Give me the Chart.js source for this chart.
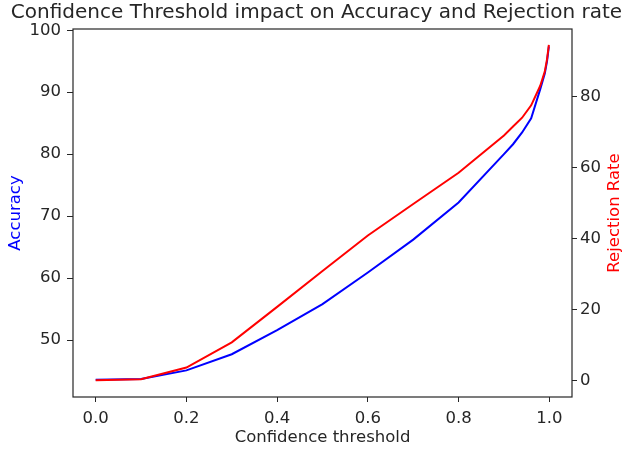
<!DOCTYPE html>
<html lang="en">
<head>
  <meta charset="UTF-8">
  <title>Confidence Threshold impact</title>
  <script src="https://cdn.jsdelivr.net/npm/chart.js"></script>
  <style>
    html, body { margin: 0; padding: 0; background: #fff; }
    #wrap { width: 633px; height: 450px; }
  </style>
</head>
<body>
  <div id="wrap"><canvas id="chart" width="633" height="450"></canvas></div>

  <script>
    // values
    const thresholds = [0, 0.1, 0.2, 0.3, 0.4, 0.5, 0.6, 0.7, 0.8, 0.9, 0.92, 0.94, 0.96, 0.98, 0.99, 0.995, 0.999];
    const accuracy = [43.6, 43.7, 45.1, 47.7, 51.6, 55.8, 60.9, 66.2, 72.2, 80.0, 81.6, 83.5, 85.8, 90.5, 93.0, 95.0, 97.4];
    const rejectionRate = [0, 0.3, 3.6, 10.7, 20.7, 30.8, 40.8, 49.7, 58.5, 69.0, 71.5, 74.0, 77.5, 83.0, 87.0, 90.5, 94.5];

    const xTicks = [0, 0.2, 0.4, 0.6, 0.8, 1.0];
    const accTicks = [50, 60, 70, 80, 90, 100];
    const rejTicks = [0, 20, 40, 60, 80];

    const FONT = "'DejaVu Sans', sans-serif";
    const INK = '#262626';
    const SIZE = 16.5;

    const toPoints = (ys) => thresholds.map((x, i) => ({ x: x, y: ys[i] }));

    // matplotlib style box around the plot area, plus the right axis label
    // (Chart.js turns right-side titles the other way round)
    const frame = {
      id: 'frame',
      afterDraw(chart) {
        const a = chart.chartArea, ctx = chart.ctx;
        ctx.save();
        ctx.strokeStyle = INK;
        ctx.lineWidth = 1.2;
        ctx.strokeRect(a.left, a.top, a.right - a.left, a.bottom - a.top);

        ctx.translate(615, (a.top + a.bottom) / 2);
        ctx.rotate(-Math.PI / 2);
        ctx.fillStyle = '#ff0000';
        ctx.font = SIZE + 'px ' + FONT;
        ctx.textAlign = 'center';
        ctx.textBaseline = 'middle';
        ctx.fillText('Rejection Rate', 0, 0);
        ctx.restore();
      }
    };

    const setTicks = (list) => (axis) => { axis.ticks = list.map(v => ({ value: v })); };

    new Chart(document.getElementById('chart'), {
      type: 'line',
      data: {
        datasets: [
          {
            label: 'Accuracy',
            data: toPoints(accuracy),
            borderColor: '#0000ff',
            borderWidth: 2,
            pointRadius: 0,
            tension: 0,
            yAxisID: 'yAcc',
            order: 2
          },
          {
            label: 'Rejection Rate',
            data: toPoints(rejectionRate),
            borderColor: '#ff0000',
            borderWidth: 2,
            pointRadius: 0,
            tension: 0,
            yAxisID: 'yRej',
            order: 1
          }
        ]
      },
      plugins: [frame],
      options: {
        responsive: false,
        animation: false,
        layout: { padding: 0 },
        plugins: {
          legend: { display: false },
          tooltip: { enabled: false },
          title: {
            display: true,
            text: 'Confidence Threshold impact on Accuracy and Rejection rate',
            color: INK,
            font: { family: FONT, size: 20, weight: 'normal', lineHeight: 1.2 },
            padding: { top: 1, bottom: 4 }
          }
        },
        scales: {
          x: {
            type: 'linear',
            min: -0.05,
            max: 1.05,
            afterBuildTicks: setTicks(xTicks),
            afterFit: (s) => { s.height = 53; },
            grid: { drawOnChartArea: false, tickLength: 5, color: INK },
            border: { display: false },
            ticks: {
              color: INK,
              padding: 7,
              maxRotation: 0,
              font: { family: FONT, size: SIZE },
              callback: (v) => v.toFixed(1)
            },
            title: {
              display: true,
              text: 'Confidence threshold',
              color: INK,
              font: { family: FONT, size: SIZE },
              padding: { top: 3, bottom: 2 }
            }
          },
          yAcc: {
            type: 'linear',
            position: 'left',
            min: 40.8,
            max: 100.2,
            afterBuildTicks: setTicks(accTicks),
            afterFit: (s) => { s.width = 73; },
            grid: { drawOnChartArea: false, tickLength: 6, color: INK },
            border: { display: false },
            ticks: {
              color: INK,
              padding: 6,
              font: { family: FONT, size: SIZE }
            },
            title: {
              display: true,
              text: 'Accuracy',
              color: '#0000ff',
              font: { family: FONT, size: SIZE },
              padding: { top: 6, bottom: 4 }
            }
          },
          yRej: {
            type: 'linear',
            position: 'right',
            min: -4.7,
            max: 99,
            afterBuildTicks: setTicks(rejTicks),
            afterFit: (s) => { s.width = 61; },
            grid: { drawOnChartArea: false, tickLength: 5, color: INK },
            border: { display: false },
            ticks: {
              color: INK,
              padding: 3,
              font: { family: FONT, size: SIZE }
            }
          }
        }
      }
    });
  </script>
</body>
</html>
